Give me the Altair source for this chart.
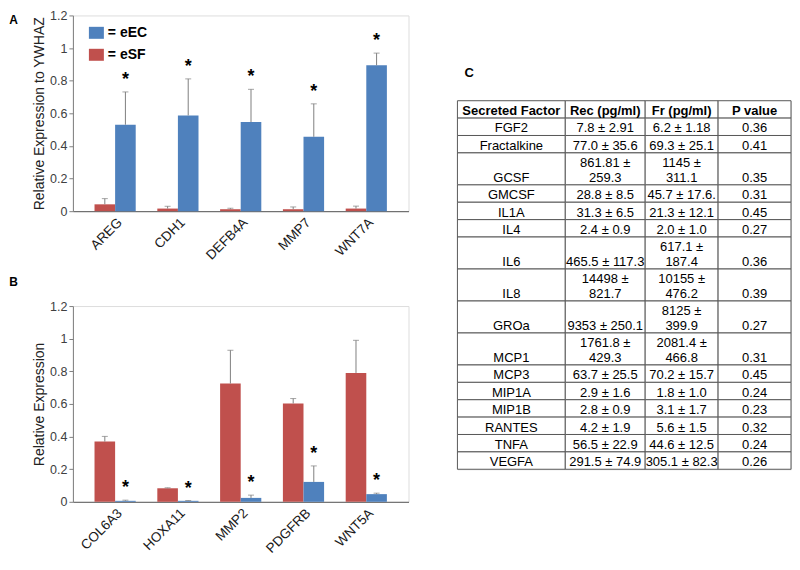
import altair as alt
import pandas as pd

# ---------------- data ----------------
GROUPS = ["eEC", "eSF"]
BAR_ORDER = ["eSF", "eEC"]
COLORS = ["#4F81BD", "#C0504D"]

genes_a = ["AREG", "CDH1", "DEFB4A", "MMP7", "WNT7A"]
a_esf = [0.042, 0.016, 0.012, 0.012, 0.016]
a_esf_err = [0.035, 0.014, 0.006, 0.014, 0.015]
a_eec = [0.530, 0.587, 0.546, 0.456, 0.894]
a_eec_err = [0.201, 0.224, 0.201, 0.202, 0.075]

genes_b = ["COL6A3", "HOXA11", "MMP2", "PDGFRB", "WNT5A"]
b_esf = [0.369, 0.083, 0.725, 0.603, 0.790]
b_esf_err = [0.032, 0.003, 0.204, 0.030, 0.200]
b_eec = [0.006, 0.006, 0.024, 0.122, 0.047]
b_eec_err = [0.004, 0.002, 0.017, 0.098, 0.006]

headers = ["Secreted Factor", "Rec (pg/ml)", "Fr (pg/ml)", "P value"]
factors = ["FGF2", "Fractalkine", "GCSF", "GMCSF", "IL1A", "IL4", "IL6", "IL8",
           "GROa", "MCP1", "MCP3", "MIP1A", "MIP1B", "RANTES", "TNFA", "VEGFA"]
rec = ["7.8 ± 2.91", "77.0 ± 35.6", "861.81 ±\n259.3", "28.8 ± 8.5", "31.3 ± 6.5",
       "2.4 ± 0.9", "465.5 ± 117.3", "14498 ±\n821.7", "9353 ± 250.1",
       "1761.8 ±\n429.3", "63.7 ± 25.5", "2.9 ± 1.6", "2.8 ± 0.9", "4.2 ± 1.9",
       "56.5 ± 22.9", "291.5 ± 74.9"]
fr = ["6.2 ± 1.18", "69.3 ± 25.1", "1145 ±\n311.1", "45.7 ± 17.6.", "21.3 ± 12.1",
      "2.0 ± 1.0", "617.1 ±\n187.4", "10155 ±\n476.2", "8125 ±\n399.9",
      "2081.4 ±\n466.8", "70.2 ± 15.7", "1.8 ± 1.0", "3.1 ± 1.7", "5.6 ± 1.5",
      "44.6 ± 12.5", "305.1 ± 82.3"]
pval = ["0.36", "0.41", "0.35", "0.31", "0.45", "0.27", "0.36", "0.39", "0.27",
        "0.31", "0.45", "0.24", "0.23", "0.32", "0.24", "0.26"]

# ---------------- layout constants ----------------
FONT = "Liberation Sans"
PLOT_W, PLOT_H = 336, 196
COL_W = [108, 80, 73, 73]
PAD = 0.19
TABLE_H = 369
TOP_SPACE = 36  # blank title line above "C" (pushes the centred table down)


def bar_panel(genes, esf, esf_err, eec, eec_err, sig_group, ytitle, title,
              legend_y, sym_path):
    recs = []
    for grp, vals, errs in (("eSF", esf, esf_err), ("eEC", eec, eec_err)):
        for g, v, e in zip(genes, vals, errs):
            recs.append({"gene": g, "group": grp, "value": v, "upper": v + e,
                         "star": "*" if grp == sig_group else ""})
    df = pd.DataFrame(recs)
    base = alt.Chart(df)

    x = alt.X("gene:N", sort=genes,
              scale=alt.Scale(paddingInner=0.344, paddingOuter=0.344),
              axis=alt.Axis(title=None, labelAngle=-45, labelFontSize=13.5,
                            labelColor="#1a1a1a", ticks=False,
                            domainColor="#595959", labelPadding=4,
                            labelFont=FONT))
    xo = alt.XOffset("group:N", sort=BAR_ORDER,
                     scale=alt.Scale(paddingInner=0, paddingOuter=0))
    yaxis = alt.Axis(title=ytitle, values=[0, 0.2, 0.4, 0.6, 0.8, 1.0, 1.2],
                     format="~g", grid=False, labelFontSize=12.5,
                     labelColor="#404040", tickColor="#7f7f7f", tickSize=4,
                     domainColor="#7f7f7f", labelPadding=2, titleFontSize=14,
                     titleFontWeight="normal", titleColor="#222222",
                     titlePadding=3, labelFont=FONT, titleFont=FONT)
    yscale = alt.Scale(domain=[0, 1.2], nice=False, zero=True)

    def ych(field):
        return alt.Y(field, scale=yscale, axis=yaxis)

    color = alt.Color("group:N", scale=alt.Scale(domain=GROUPS, range=COLORS),
                      legend=alt.Legend(title=None, orient="none", legendX=16,
                                        legendY=legend_y, direction="vertical",
                                        symbolType=sym_path, symbolSize=225,
                                        symbolStrokeWidth=0, labelFontSize=14,
                                        labelFontWeight="bold", labelColor="black",
                                        labelFont=FONT, labelOffset=4,
                                        rowPadding=7, padding=0,
                                        labelExpr="'= ' + datum.label"))

    bars = base.mark_bar().encode(x=x, xOffset=xo, y=ych("value:Q"), color=color)
    err = base.mark_rule(color="#7f7f7f", strokeWidth=1).encode(
        x=x, xOffset=xo, y=ych("value:Q"), y2="upper:Q")
    cap = base.mark_tick(color="#7f7f7f", thickness=1, size=6).encode(
        x=x, xOffset=xo, y=ych("upper:Q"))
    stars = base.transform_filter(alt.datum.star != "").mark_text(
        fontSize=18, fontWeight="bold", baseline="alphabetic", dy=-7,
        color="black", font=FONT).encode(
        x=x, xOffset=xo, y=ych("upper:Q"), text="star:N")
    return alt.layer(bars, err, cap, stars).properties(
        width=PLOT_W, height=PLOT_H, title=title)


def panel_title(letter, dy):
    return alt.TitleParams(letter, orient="left", anchor="end", angle=0,
                           align="right", baseline="top", frame="group",
                           offset=6, dy=dy, fontSize=12, fontWeight="bold",
                           font=FONT, color="black")


chart_a = bar_panel(genes_a, a_esf, a_esf_err, a_eec, a_eec_err, "eEC",
                    "Relative Expression to YWHAZ", panel_title("A", 0),
                    10, "M-1,-0.8H1V0.8H-1Z")
chart_b = bar_panel(genes_b, b_esf, b_esf_err, b_eec, b_eec_err, "eEC",
                    "Relative Expression", panel_title("B", -29),
                    4, "M-1,-0.93H1V0.93H-1Z")

# ---------------- table ----------------
rows = [headers] + [list(r) for r in zip(factors, rec, fr, pval)]
cells = []
y0 = 0.0
for ri, row in enumerate(rows):
    n = max(t.count("\n") + 1 for t in row)
    y1 = y0 + n + PAD
    x0 = 0
    for ci, t in enumerate(row):
        k = t.count("\n") + 1
        cells.append({"text": t, "x0": x0, "x1": x0 + COL_W[ci],
                      "xc": x0 + COL_W[ci] / 2, "y0": y0, "y1": y1,
                      "ytext": y1 - (k - 1), "header": ri == 0})
        x0 += COL_W[ci]
    y0 = y1
total = y0
LINE_PX = TABLE_H / total
tdf = pd.DataFrame(cells)
tb = alt.Chart(tdf)
tx = alt.Scale(domain=[0, sum(COL_W)], nice=False, zero=True)
ty = alt.Scale(domain=[0, total], nice=False, zero=True, reverse=True)
grid = tb.mark_rect(fill="white", stroke="#595959", strokeWidth=1).encode(
    x=alt.X("x0:Q", scale=tx, axis=None), x2="x1:Q",
    y=alt.Y("y0:Q", scale=ty, axis=None), y2="y1:Q")
body = tb.transform_filter(~alt.datum.header).mark_text(
    fontSize=13, font=FONT, baseline="bottom", lineBreak="\n",
    lineHeight=LINE_PX, color="black").encode(
    x=alt.X("xc:Q", scale=tx, axis=None), y=alt.Y("ytext:Q", scale=ty, axis=None),
    text="text:N")
head = tb.transform_filter(alt.datum.header).mark_text(
    fontSize=13, font=FONT, fontWeight="bold", baseline="bottom",
    color="black").encode(
    x=alt.X("xc:Q", scale=tx, axis=None), y=alt.Y("ytext:Q", scale=ty, axis=None),
    text="text:N")
table = alt.layer(grid, body, head).properties(
    width=sum(COL_W), height=TABLE_H,
    title=alt.TitleParams(["", "C"], anchor="start", frame="group", dx=7,
                          offset=20, fontSize=13, lineHeight=TOP_SPACE,
                          fontWeight="bold", font=FONT, color="black"))

left = alt.vconcat(chart_a, chart_b, spacing=12)
chart = alt.hconcat(left, table, spacing=47, center=True).properties(
    padding=0).configure_view(stroke=None).configure(font=FONT)

chart.save("out.html", embed_options={"renderer": "svg", "actions": False})
